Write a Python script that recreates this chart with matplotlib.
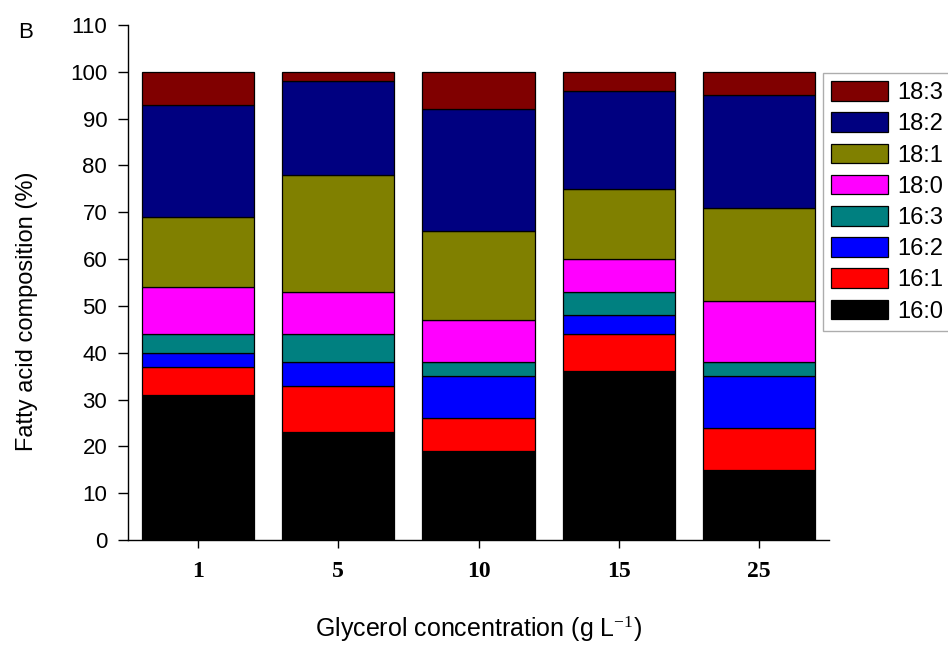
import matplotlib
matplotlib.use("Agg")
import matplotlib.pyplot as plt
import numpy as np

plt.rcParams['font.family'] = ['Liberation Sans', 'DejaVu Sans']
plt.rcParams['mathtext.fontset'] = 'custom'
plt.rcParams['mathtext.rm'] = 'Liberation Serif'
plt.rcParams['mathtext.it'] = 'Liberation Serif:italic'
plt.rcParams['mathtext.bf'] = 'Liberation Serif:bold'

categories = ['1', '5', '10', '15', '25']
series_names = ['16:0', '16:1', '16:2', '16:3', '18:0', '18:1', '18:2', '18:3']
v_16_0 = [31, 23, 19, 36, 15]
v_16_1 = [6, 10, 7, 8, 9]
v_16_2 = [3, 5, 9, 4, 11]
v_16_3 = [4, 6, 3, 5, 3]
v_18_0 = [10, 9, 9, 7, 13]
v_18_1 = [15, 25, 19, 15, 20]
v_18_2 = [24, 20, 26, 21, 24]
v_18_3 = [7, 2, 8, 4, 5]
series_values = [v_16_0, v_16_1, v_16_2, v_16_3, v_18_0, v_18_1, v_18_2, v_18_3]
colors = ['#000000', '#FF0000', '#0000FF', '#008080', '#FF00FF', '#808000', '#000080', '#800000']

fig = plt.figure(figsize=(9.48, 6.48), dpi=100)
ax = fig.add_axes([128/948, 1-540/648, (829-128)/948, (540-25)/648])

x = np.arange(len(categories))
bottom = np.zeros(len(categories))
handles = []
for name, vals, c in zip(series_names, series_values, colors):
    b = ax.bar(x, vals, width=0.8, bottom=bottom, color=c, edgecolor='black',
               linewidth=0.9, label=name)
    handles.append(b)
    bottom += np.array(vals)

ax.set_xlim(-0.5, len(categories) - 0.5)
ax.set_ylim(0, 110)
ax.set_yticks(np.arange(0, 111, 10))
ax.set_xticks(x)
ax.set_xticklabels(categories, fontfamily='Liberation Serif', fontweight='bold', fontsize=17)
ax.tick_params(axis='y', direction='out', length=7, width=1, pad=8, labelsize=16)
ax.tick_params(axis='x', direction='out', length=6, width=1, pad=9)
for s in ['top', 'right']:
    ax.spines[s].set_visible(False)
for s in ['left', 'bottom']:
    ax.spines[s].set_linewidth(1)

ax.set_ylabel('Fatty acid composition (%)', fontsize=17)
ax.yaxis.set_label_coords((38 - 128) / 701, (540 - 311) / 515)
ax.set_xlabel('Glycerol concentration (g L$^{-1}$)', fontsize=18, labelpad=24)

leg = fig.legend(handles[::-1], series_names[::-1], loc='upper left',
                 bbox_to_anchor=(822.7/948, 1-72.7/648), bbox_transform=fig.transFigure,
                 fontsize=17, handlelength=2.4, handleheight=0.9, labelspacing=0.35,
                 handletextpad=0.4, borderpad=0.36, borderaxespad=0, fancybox=False,
                 frameon=True)
leg.get_frame().set_edgecolor('#999999')
leg.get_frame().set_linewidth(1)

fig.text(18/948, 1-38/648, 'B', fontsize=16)

fig.savefig('out.png', dpi=100)
